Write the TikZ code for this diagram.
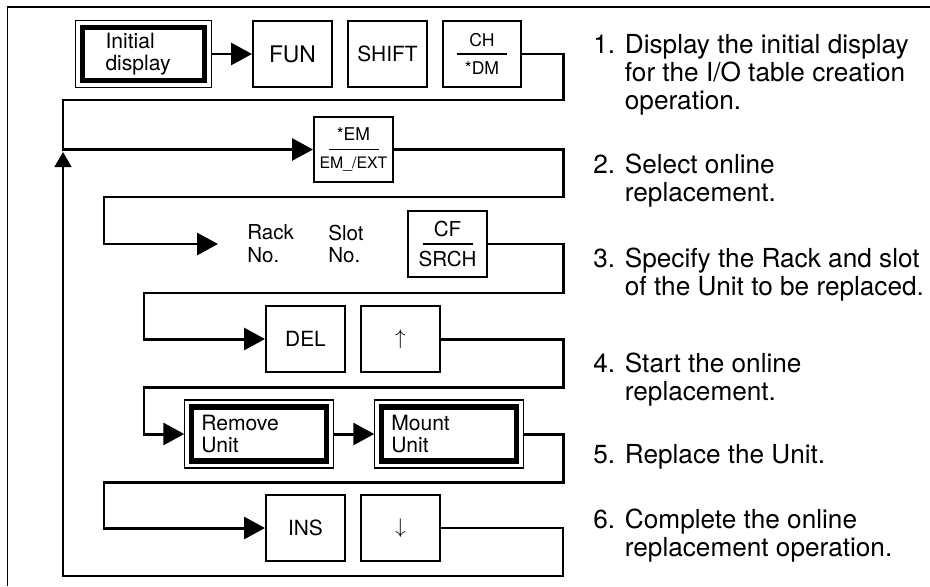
\documentclass[tikz,border=0pt]{standalone}
\usepackage{fontspec}
\setmainfont{TeX Gyre Heros}
\usetikzlibrary{arrows.meta}

\tikzset{
    keybox/.style={draw, line width=1.4pt, minimum width=1.57cm, minimum height=1.31cm, inner sep=0pt, font=\fontsize{11.9}{14}\selectfont},
    fracbox/.style={keybox, align=center, font=\fontsize{10}{15.5}\selectfont},
    dispbox/.style={draw, line width=3pt, outer sep=0.14cm, inner xsep=0.2cm, text width=2.31cm, minimum height=1.08cm, inner ysep=0pt, align=left, font=\fontsize{12}{12.8}\selectfont},
    lbl/.style={anchor=west, inner sep=0pt, align=left, font=\fontsize{11.7}{13}\selectfont},
    steptext/.style={anchor=base west, inner sep=0pt, font=\fontsize{14.9}{16.2}\selectfont},
    flow/.style={line width=1.7pt, -{Triangle[length=0.42cm,width=0.44cm]}},
    retline/.style={line width=0.75pt, -{Triangle[length=0.3cm,width=0.34cm]}},
}

\begin{document}
\begin{tikzpicture}
                \useasboundingbox (0, 0) rectangle (18.6, -11.72);
                \draw[line width=1.1pt] (0.15, -11.72) -- (0.15, -0.14) -- (18.6, -0.14);
                % Keys and displays:
                \node[dispbox, inner xsep=0.46cm, text width=1.52cm, minimum height=1.06cm](init) at (2.87, -1.08){Initial\\display};
                \node[keybox, font=\fontsize{13}{14}\selectfont](fun) at (5.85, -1.08){FUN};
                \node[keybox](shift) at (7.75, -1.08){SHIFT};
                \node[fracbox](ch) at (9.64, -1.08){CH\\*DM};
                \node[fracbox](em) at (7.07, -2.99){*EM\\{\fontsize{9}{15.5}\selectfont EM\_/EXT}};
                \coordinate (rackin) at (4.36, -4.88);
                \node[lbl](rack) at (4.94, -4.88){Rack\\No.};
                \node[lbl](slot) at (6.56, -4.88){Slot\\No.};
                \node[fracbox, font=\fontsize{11.7}{17.6}\selectfont](cf) at (8.95, -4.88){CF\\SRCH};
                \node[keybox](del) at (6.11, -6.78){DEL};
                \node[keybox](up) at (8.01, -6.78){$\uparrow$};
                \node[dispbox](remove) at (5.18, -8.68){Remove\\Unit};
                \node[dispbox](mount) at (8.98, -8.68){Mount\\Unit};
                \node[keybox](ins) at (6.11, -10.56){INS};
                \node[keybox](down) at (8.01, -10.56){$\downarrow$};
                \coordinate (loopin) at (1.26, -3.04);
                \foreach \n in {init, remove, mount}
                    \draw[line width=0.6pt] (\n.north west) rectangle (\n.south east);
                \foreach \n in {ch, em, cf}
                    \draw[line width=0.6pt] ([xshift=-0.5cm]\n.center) -- ([xshift=0.5cm]\n.center);
                % Wires:
                \draw[flow] (init.east) -- (fun.west);
                \draw[flow] (ch.east) -| (11.26, -2.0) -- (1.26, -2.0) |- (em.west);
                \draw[flow] (em.east) -| (11.26, -3.94) -- (2.08, -3.94) |- (rackin);
                \draw[flow] (cf.east) -| (11.26, -5.86) -- (2.88, -5.86) |- (del.west);
                \draw[flow] (up.east) -| (11.26, -7.74) -- (2.88, -7.74) |- (remove.west);
                \draw[flow] (remove.east) -- (mount.west);
                \draw[flow] (mount.east) -| (11.26, -9.64) -- (2.08, -9.64) |- (ins.west);
                \draw[retline] (down.east) -| (11.26, -11.52) -- (1.26, -11.52) -- (loopin);
                % Steps:
                \node[steptext](s1) at (11.86, -1.06){\begin{tabular}[t]{@{}l@{ }l@{}}1. & Display the initial display\\ & for the I/O table creation\\ & operation.\end{tabular}};
                \node[steptext](s2) at (11.86, -3.46){\begin{tabular}[t]{@{}l@{ }l@{}}2. & Select online\\ & replacement.\end{tabular}};
                \node[steptext](s3) at (11.86, -5.34){\begin{tabular}[t]{@{}l@{ }l@{}}3. & Specify the Rack and slot\\ & of the Unit to be replaced.\end{tabular}};
                \node[steptext](s4) at (11.86, -7.44){\begin{tabular}[t]{@{}l@{ }l@{}}4. & Start the online\\ & replacement.\end{tabular}};
                \node[steptext](s5) at (11.86, -9.26){\begin{tabular}[t]{@{}l@{ }l@{}}5. & Replace the Unit.\end{tabular}};
                \node[steptext](s6) at (11.86, -10.56){\begin{tabular}[t]{@{}l@{ }l@{}}6. & Complete the online\\ & replacement operation.\end{tabular}};
            \end{tikzpicture}
\end{document}
